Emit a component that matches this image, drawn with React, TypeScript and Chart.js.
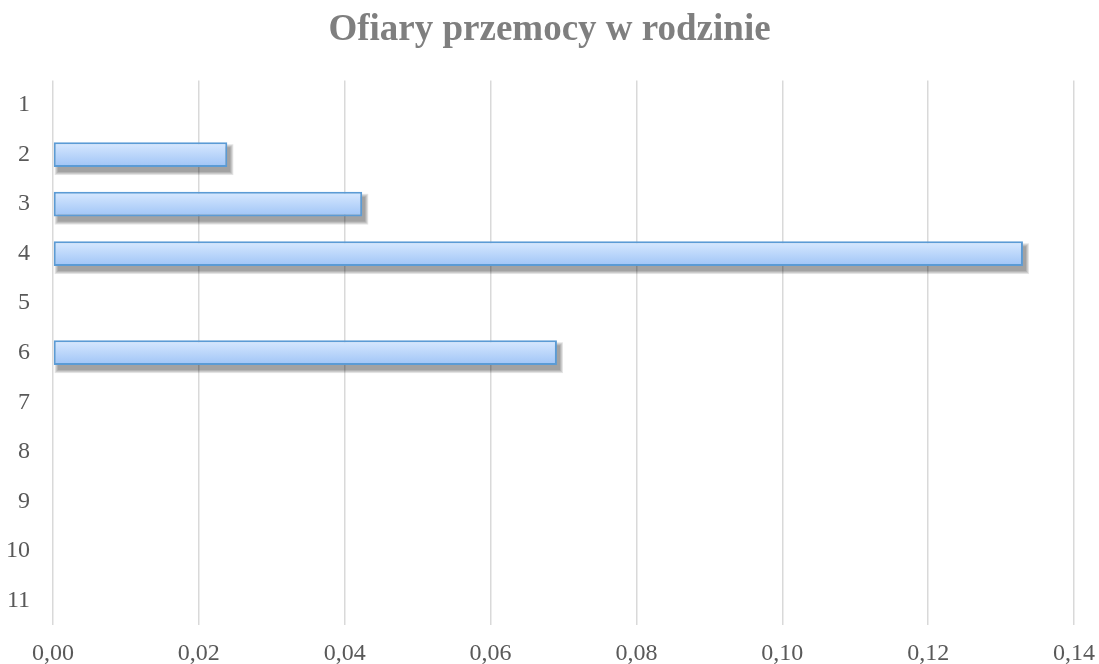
import React, { useEffect, useRef } from "react";
import { Chart, registerables } from "chart.js";

Chart.register(...registerables);

const categories = ["1", "2", "3", "4", "5", "6", "7", "8", "9", "10", "11"];
const values: (number | null)[] = [null, 0.0239, 0.0424, 0.133, null, 0.0691, null, null, null, null, null];
const xTicksMin = 0;
const xTicksMax = 0.14;
const xStep = 0.02;
const titleText = "Ofiary przemocy w rodzinie";

const shadowPlugin = {
  id: "barShadow",
  beforeDatasetsDraw(chart: any) {
    const ctx = chart.ctx;
    const meta = chart.getDatasetMeta(0);
    ctx.save();
    meta.data.forEach((el: any, i: number) => {
      if (values[i] === null || values[i] === undefined) return;
      const { x, y, base, height } = el.getProps(["x", "y", "base", "height"], true);
      const left = Math.min(x, base);
      const right = Math.max(x, base);
      const top = y - height / 2;
      const dx = 3;
      const dy = 5;
      for (let k = 0; k < 4; k++) {
        ctx.fillStyle = "rgba(0,0,0,0.11)";
        ctx.fillRect(left + dx - k + 1, top + dy - k, right - left + 2 * k - 1, height + 2 * k);
      }
    });
    ctx.restore();
  },
};

const serif = "'Liberation Serif', 'Times New Roman', serif";

export default function App() {
  const ref = useRef<HTMLCanvasElement | null>(null);
  useEffect(() => {
    if (!ref.current) return;
    const chart = new Chart(ref.current, {
      type: "bar",
      data: {
        labels: categories,
        datasets: [
          {
            data: values as any,
            backgroundColor: (c: any) => {
              const ch = c.chart;
              const ys = ch.scales?.y;
              if (c.dataIndex === undefined || !ys || !ch.chartArea) return "#bcd8fb";
              const yc = ys.getPixelForValue(c.dataIndex);
              const h = ((ys.bottom - ys.top) / categories.length) * 0.5;
              const g = ch.ctx.createLinearGradient(0, yc - h / 2, 0, yc + h / 2);
              g.addColorStop(0, "#d8e9ff");
              g.addColorStop(1, "#9fc4f6");
              return g;
            },
            borderColor: "#5b9bd5",
            borderWidth: 2,
            borderSkipped: false,
            categoryPercentage: 1,
            barPercentage: 0.5,
          },
        ],
      },
      options: {
        indexAxis: "y",
        animation: false,
        responsive: true,
        maintainAspectRatio: false,
        layout: { padding: 0 },
        plugins: {
          legend: { display: false },
          tooltip: { enabled: false },
          title: {
            display: true,
            text: titleText,
            color: "#7f7f7f",
            font: { family: serif, size: 37, weight: "bold" },
            padding: { top: 8, bottom: 28 },
          },
        },
        scales: {
          x: {
            min: xTicksMin,
            max: xTicksMax,
            afterFit: (s: any) => {
              s.height = 39;
              s.paddingLeft = 0;
              s.paddingRight = 25;
            },
            ticks: {
              stepSize: xStep,
              color: "#595959",
              font: { family: serif, size: 24 },
              padding: 14,
              maxRotation: 0,
              callback: (v: any) => Number(v).toFixed(2).replace(".", ","),
            },
            grid: { color: "#d9d9d9", lineWidth: 1.5, drawTicks: false },
            border: { display: false },
          },
          y: {
            afterFit: (s: any) => {
              s.width = 53;
            },
            ticks: {
              color: "#595959",
              font: { family: serif, size: 24 },
              padding: 23,
            },
            grid: { display: false, drawTicks: false },
            border: { display: false },
          },
        },
      },
      plugins: [shadowPlugin],
    } as any);
    return () => chart.destroy();
  }, []);
  return (
    <div style={{ position: "fixed", left: 0, top: 0, width: 1099, height: 664, background: "#fff" }}>
      <canvas ref={ref} />
    </div>
  );
}
